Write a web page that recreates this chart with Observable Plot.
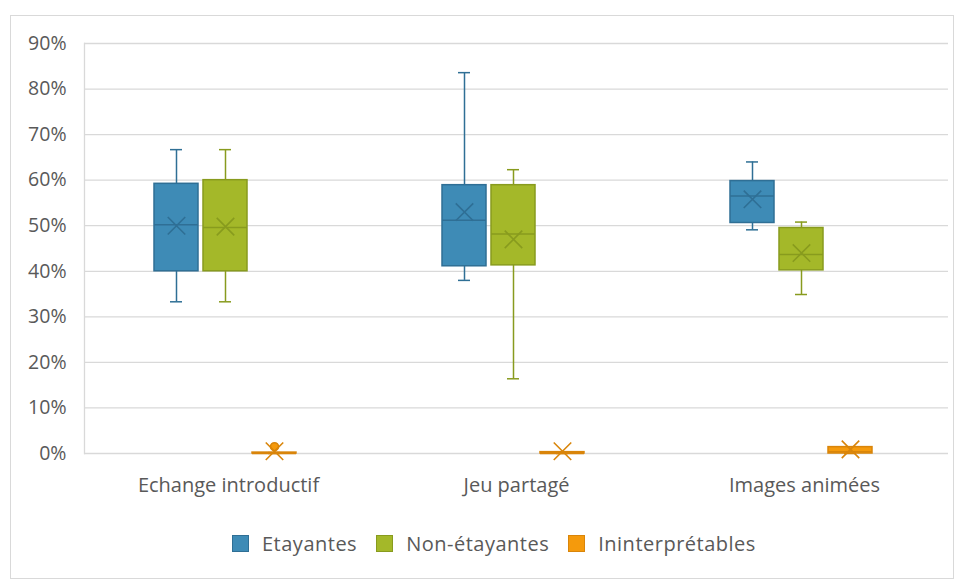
<!DOCTYPE html>
<html>
<head>
<meta charset="utf-8">
<script src="https://cdn.jsdelivr.net/npm/d3@7"></script>
<script src="https://cdn.jsdelivr.net/npm/@observablehq/plot@0.6"></script>
<style>
  body { margin: 0; background: #fff; font-family: "Open Sans", sans-serif; }
  #frame { position: absolute; left: 10px; top: 15px; width: 944px; height: 564px; border: 1px solid #d9d9d9; box-sizing: border-box; }
  #chart { position: absolute; left: 0; top: 0; }
  #legend { position: absolute; left: 232px; top: 530px; display: flex; font-size: 20px; letter-spacing: 0.5px; color: #595959; }
  .item { display: flex; align-items: center; margin-right: 19px; }
  .sw { width: 17px; height: 17px; border: 1.5px solid; box-sizing: border-box; margin-right: 13px; }
</style>
</head>
<body>
<div id="frame"></div>
<div id="chart"></div>
<div id="legend"></div>
<script>
const categories = ["Echange introductif", "Jeu partagé", "Images animées"];
const series = ["Etayantes", "Non-étayantes", "Ininterprétables"];
const yTicks = [0, 10, 20, 30, 40, 50, 60, 70, 80, 90];

// values in %, one entry per category
const etayMin    = [33.3, 38.0, 49.1];
const etayQ1     = [40.0, 41.1, 50.6];
const etayMedian = [50.2, 51.2, 56.5];
const etayQ3     = [59.2, 58.9, 59.8];
const etayMax    = [66.7, 83.6, 64.0];
const etayMean   = [50.0, 53.0, 55.8];

const nonMin    = [33.3, 16.4, 34.9];
const nonQ1     = [40.0, 41.3, 40.2];
const nonMedian = [49.6, 48.2, 43.7];
const nonQ3     = [60.0, 58.9, 49.5];
const nonMax    = [66.7, 62.3, 50.8];
const nonMean   = [49.8, 47.0, 44.0];

const intMin    = [0, 0, 0];
const intQ1     = [0, 0, 0];
const intMedian = [0, 0, 0.4];
const intQ3     = [0.2, 0.3, 1.4];
const intMax    = [0.2, 0.3, 1.4];
const intMean   = [0.5, 0.5, 0.9];

const outlierCategory = ["Echange introductif"];
const outlierValue = [1.5];

const fills   = ["#3E8BB6", "#A4B829", "#F59A0C"];
const strokes = ["#2F6F95", "#889B1E", "#D9850A"];

const stats = [
  [etayMin, etayQ1, etayMedian, etayQ3, etayMax, etayMean],
  [nonMin, nonQ1, nonMedian, nonQ3, nonMax, nonMean],
  [intMin, intQ1, intMedian, intQ3, intMax, intMean]
];
const rows = [];
series.forEach((s, si) => {
  categories.forEach((c, ci) => {
    const [mn, q1, md, q3, mx, me] = stats[si];
    rows.push({category: c, series: s, min: mn[ci], q1: q1[ci], median: md[ci], q3: q3[ci], max: mx[ci], mean: me[ci]});
  });
});
const outliers = outlierCategory.map((c, i) => ({category: c, series: "Ininterprétables", value: outlierValue[i]}));

const fillOf = s => fills[series.indexOf(s)];
const strokeOf = s => strokes[series.indexOf(s)];

const chart = Plot.plot({
  width: 957,
  height: 510,
  marginLeft: 83,
  marginRight: 9,
  marginTop: 43,
  marginBottom: 57,
  style: {fontFamily: "Open Sans, sans-serif", fontSize: "19px", color: "#595959", background: "transparent"},
  fx: {domain: categories, padding: 0, label: null},
  x: {domain: series, paddingInner: 0.1, paddingOuter: 1.46, align: 0.48, axis: null},
  y: {domain: [0, 90], ticks: yTicks, label: null},
  marks: [
    Plot.ruleY(yTicks, {stroke: "#d9d9d9", strokeWidth: 1.3}),
    Plot.frame({anchor: "left", stroke: "#d9d9d9", strokeWidth: 1.3, facetAnchor: "left"}),
    Plot.axisY({ticks: yTicks, tickSize: 0, tickPadding: 18, tickFormat: d => d + "%", fontSize: 19.5, fill: "#595959", label: null}),
    Plot.axisFx({anchor: "bottom", tickSize: 0, tickPadding: 24, fontSize: 20, letterSpacing: 0.5, fill: "#595959", label: null}),
    // whiskers
    Plot.ruleX(rows, {fx: "category", x: "series", y1: "min", y2: "max", stroke: d => strokeOf(d.series), strokeWidth: 1.5}),
    Plot.tickY(rows, {fx: "category", x: "series", y: "min", stroke: d => strokeOf(d.series), strokeWidth: 1.5, insetLeft: 16, insetRight: 16}),
    Plot.tickY(rows, {fx: "category", x: "series", y: "max", stroke: d => strokeOf(d.series), strokeWidth: 1.5, insetLeft: 16, insetRight: 16}),
    // boxes
    Plot.barY(rows, {fx: "category", x: "series", y1: "q1", y2: "q3", fill: d => fillOf(d.series), stroke: d => strokeOf(d.series), strokeWidth: 1.5}),
    Plot.tickY(rows, {fx: "category", x: "series", y: "median", stroke: d => strokeOf(d.series), strokeWidth: 1.5}),
    Plot.dot(outliers, {fx: "category", x: "series", y: "value", fill: d => fillOf(d.series), stroke: d => strokeOf(d.series), r: 4}),
    Plot.dot(rows, {fx: "category", x: "series", y: "mean", symbol: "times", r: 8, stroke: d => strokeOf(d.series), strokeWidth: 1.6})
  ]
});
document.getElementById("chart").appendChild(chart);

const legend = document.getElementById("legend");
series.forEach((s, i) => {
  const it = document.createElement("div");
  it.className = "item";
  const sw = document.createElement("div");
  sw.className = "sw";
  sw.style.background = fills[i];
  sw.style.borderColor = strokes[i];
  const t = document.createElement("span");
  t.textContent = s;
  it.appendChild(sw);
  it.appendChild(t);
  legend.appendChild(it);
});
</script>
</body>
</html>
